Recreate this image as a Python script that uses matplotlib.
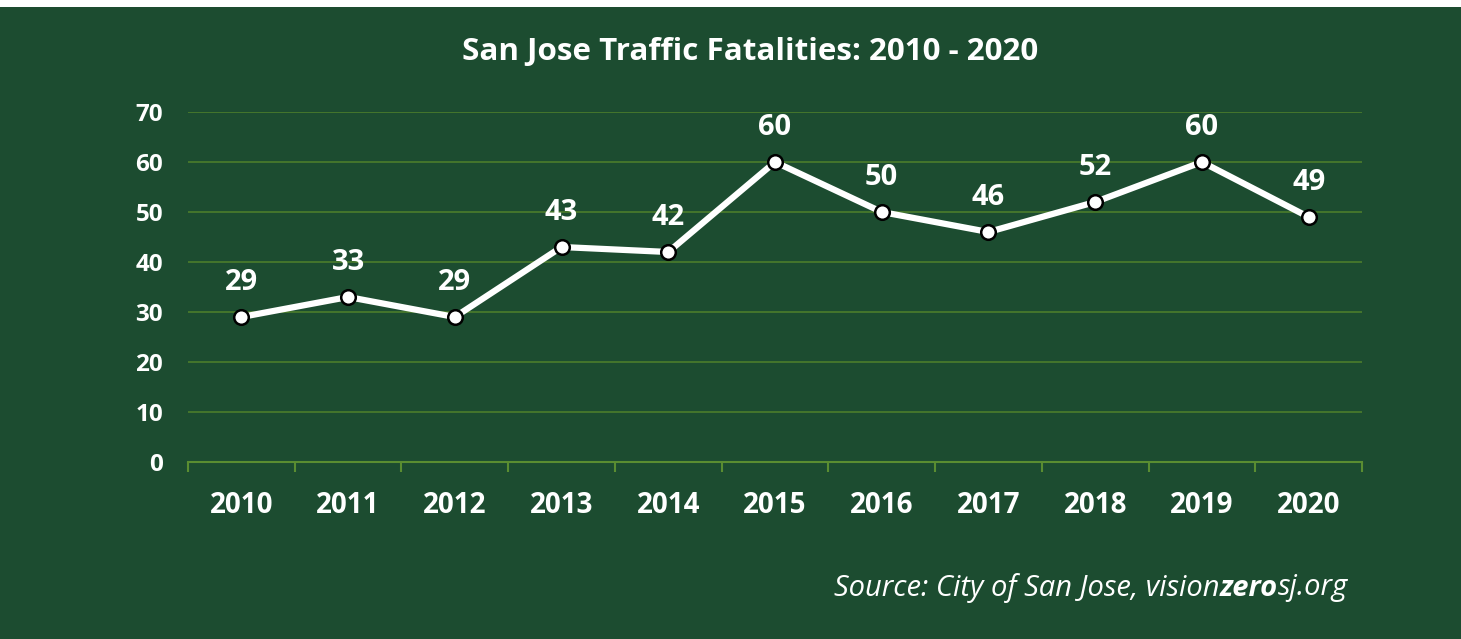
import matplotlib
matplotlib.use("Agg")
import matplotlib.pyplot as plt
from matplotlib.patches import Rectangle

years = ["2010", "2011", "2012", "2013", "2014", "2015", "2016", "2017", "2018", "2019", "2020"]
fatalities = [29, 33, 29, 43, 42, 60, 50, 46, 52, 60, 49]
yticks = [0, 10, 20, 30, 40, 50, 60, 70]

BG = "#1c4c30"
GRID = "#4b7d2c"
AXIS = "#5a8d31"
FONT = "Open Sans"

W, H = 1461, 639
fig = plt.figure(figsize=(W / 100, H / 100), dpi=100)
fig.patch.set_facecolor("white")
fig.patches.append(Rectangle((0, 0), 1, 1 - 7 / H, transform=fig.transFigure,
                             facecolor=BG, edgecolor="none", zorder=-10))

ax = fig.add_axes([188 / W, 1 - 462 / H, (1362 - 188) / W, (462 - 112) / H])
ax.set_zorder(1)
ax.patch.set_alpha(0)
x = list(range(len(years)))
ax.plot(x, fatalities, color="white", lw=4.5, marker="o", ms=10.5,
        mfc="white", mec="black", mew=1.8, zorder=5, solid_capstyle="round")
for xi, v in zip(x, fatalities):
    ax.annotate(str(v), (xi, v), xytext=(0, 25), textcoords="offset points",
                ha="center", va="center", color="white", fontsize=21,
                fontweight="bold", family=FONT)

ax.set_xlim(-0.5, len(years) - 0.5)
ax.set_ylim(0, 70)
ax.set_yticks(yticks)
ax.set_yticklabels([str(t) for t in yticks])
ax.yaxis.grid(True, color=GRID, lw=1.2)
ax.set_axisbelow(True)
ax.tick_params(axis="y", length=0, pad=18, labelsize=17.5, labelcolor="white")
ax.set_xticks(x)
ax.set_xticklabels(years)
ax.set_xticks([i - 0.5 for i in range(len(years) + 1)], minor=True)
ax.tick_params(axis="x", which="major", length=0, pad=21, labelsize=20, labelcolor="white")
ax.tick_params(axis="x", which="minor", length=7, width=1.5, color=AXIS, direction="out")
for lab in ax.get_xticklabels() + ax.get_yticklabels():
    lab.set_fontweight("bold")
    lab.set_family(FONT)
for s in ["top", "right", "left"]:
    ax.spines[s].set_visible(False)
ax.spines["bottom"].set_color(AXIS)
ax.spines["bottom"].set_linewidth(1.5)

fig.text(750 / W, 1 - 52 / H, "San Jose Traffic Fatalities: 2010 - 2020",
         ha="center", va="center", color="white", fontsize=22.6,
         fontweight="bold", family=FONT)

# Source line with bold "zero"
fig.canvas.draw()
r = fig.canvas.get_renderer()
parts = [("sj.org", "normal"), ("zero", "bold"), ("Source: City of San Jose, vision", "normal")]
xr = 1348
for txt, wt in parts:
    t = fig.text(xr / W, 1 - 588 / H, txt, ha="right", va="center", color="white",
                 fontsize=21, style="italic", fontweight=wt, family=FONT)
    bb = t.get_window_extent(r)
    xr = xr - bb.width

fig.savefig("out.png", dpi=100, facecolor=fig.get_facecolor())
